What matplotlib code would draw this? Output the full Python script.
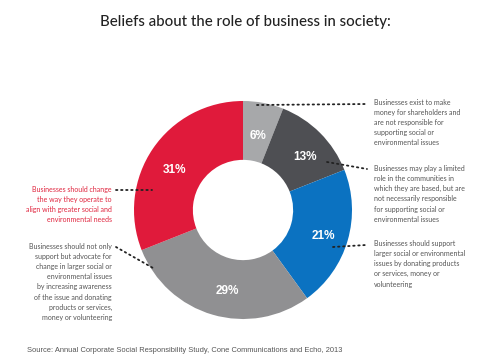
import matplotlib
matplotlib.use("Agg")
import matplotlib.pyplot as plt

title = "Beliefs about the role of business in society:"
values = [6, 13, 21, 29, 31]
labels = ["6%", "13%", "21%", "29%", "31%"]
colors = ["#a7a8aa", "#4e4f53", "#0b72c1", "#909092", "#e01a3b"]
descriptions = [
    "Businesses exist to make\nmoney for shareholders and\nare not responsible for\nsupporting social or\nenvironmental issues",
    "Businesses may play a limited\nrole in the communities in\nwhich they are based, but are\nnot necessarily responsible\nfor supporting social or\nenvironmental issues",
    "Businesses should support\nlarger social or environmental\nissues by donating products\nor services, money or\nvolunteering",
    "Businesses should not only\nsupport but advocate for\nchange in larger social or\nenvironmental issues\nby increasing awareness\nof the issue and donating\nproducts or services,\nmoney or volunteering",
    "Businesses should change\nthe way they operate to\nalign with greater social and\nenvironmental needs",
]
source = "Source: Annual Corporate Social Responsibility Study, Cone Communications and Echo, 2013"

W, H = 491, 364
fig = plt.figure(figsize=(W / 100, H / 100), dpi=100)
ax = fig.add_axes([0, 0, 1, 1])

cx, cy, R = 243, 210, 109
ax.pie(values, colors=colors, startangle=-90, counterclock=True,
       center=(cx, cy), radius=R, frame=True,
       wedgeprops=dict(width=R * 0.54, edgecolor="none"))
ax.set_xlim(0, W)
ax.set_ylim(H, 0)
ax.set_aspect("equal")
ax.axis("off")

label_pos = [(258, 136), (305, 157), (323, 236), (227, 291), (175, 170)]
for lab, (x, y) in zip(labels, label_pos):
    ax.text(x, y, lab, color="white", fontsize=8.5, fontweight="bold",
            family="Liberation Sans", ha="center", va="center")

ax.text(245, 22, title, fontsize=10.8, family="Lato", fontweight="medium",
        color="#222222", ha="center", va="center")

body = "#555555"
red = "#e0263f"
fs = 5.0
fam = "Lato"
ls = 1.52

right_y = [99, 165, 240]
for txt, y in zip(descriptions[:3], right_y):
    ax.text(374, y, txt, fontsize=fs, family=fam, color=body, ha="left", va="top",
            linespacing=ls)
ax.text(112, 186, descriptions[4], fontsize=fs, family=fam, color=red,
        ha="right", va="top", linespacing=ls)
ax.text(112, 243, descriptions[3], fontsize=fs, family=fam, color=body,
        ha="right", va="top", linespacing=ls)

callouts = [
    [(257, 105), (367, 104)],
    [(327, 162), (367, 169)],
    [(333, 247), (366, 245)],
    [(116, 190), (152, 190)],
    [(116, 247), (153, 268)],
]
for (x0, y0), (x1, y1) in callouts:
    ax.plot([x0, x1], [y0, y1], color="#222222", lw=1.3, ls=(0, (0.8, 2.0)),
            dash_capstyle="round")

ax.text(27, 350, source, fontsize=5.4, family="Liberation Sans", color="#555555",
        ha="left", va="center")

fig.savefig("out.png", dpi=100)
